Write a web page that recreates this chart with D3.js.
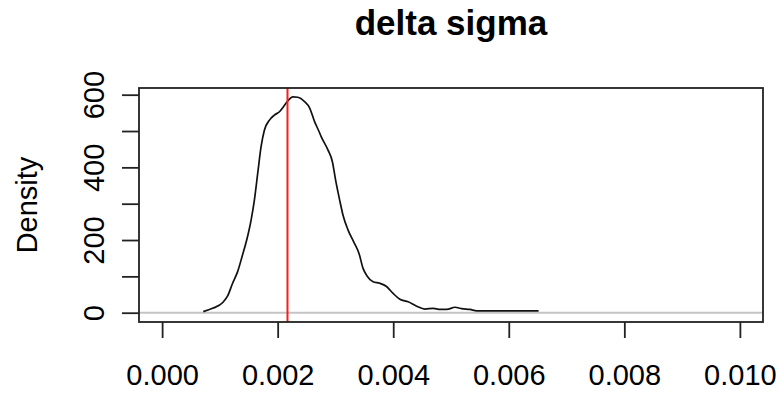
<!DOCTYPE html>
<html>
<head>
<meta charset="utf-8">
<script src="https://cdn.jsdelivr.net/npm/d3@7"></script>
<style>
  html, body { margin: 0; padding: 0; background: #ffffff; }
  svg { display: block; font-family: "Liberation Sans", Arial, sans-serif; }
</style>
</head>
<body>
<svg id="chart" width="780" height="393"></svg>
<script>
// Kernel density estimate of delta sigma (x = value, y = density)
const densityX = [0.000712, 0.000874, 0.00105, 0.001134, 0.00122, 0.001307, 0.001383, 0.001464,
  0.00154, 0.001597, 0.001655, 0.001713, 0.001771, 0.001858, 0.001944, 0.002031, 0.0021,
  0.002175, 0.002262, 0.002349, 0.002465, 0.002552, 0.002639, 0.002712, 0.002755, 0.00287,
  0.002946, 0.003003, 0.003073, 0.00313, 0.003217, 0.003316, 0.003408, 0.003478, 0.003547,
  0.003651, 0.003767, 0.003884, 0.003998, 0.004115, 0.004259, 0.004405, 0.004549, 0.004693,
  0.00481, 0.004926, 0.00507, 0.005186, 0.00533, 0.005446, 0.005533, 0.006516];
const densityY = [3, 12, 28, 46, 81, 113, 154, 200,
  255, 310, 384, 457, 503, 530, 544, 553, 567,
  583, 594, 593, 581, 564, 526, 500, 484, 448,
  416, 365, 310, 269, 228, 195, 163, 122, 101,
  85, 81, 72, 53, 37, 30, 18, 10, 12,
  9, 9, 15, 11, 9, 5, 5, 5];

// Reference value marked with a vertical line
const markerValue = [0.00217];

// Axis ticks and labels
const xTicks = [0, 0.002, 0.004, 0.006, 0.008, 0.010];
const xTickLabels = ["0.000", "0.002", "0.004", "0.006", "0.008", "0.010"];
const yTicks = [0, 100, 200, 300, 400, 500, 600];
const yTickLabels = ["0", "", "200", "", "400", "", "600"];

const titleText = "delta sigma";
const yAxisTitle = "Density";

const svg = d3.select("#chart");
const plot = { left: 139, right: 763, top: 88, bottom: 322 };

const x = d3.scaleLinear().domain([-0.0004, 0.0104]).range([plot.left, plot.right]);
const y = d3.scaleLinear().domain([-25.6, 618.4]).range([plot.bottom, plot.top]);

// zero reference line
svg.append("line")
  .attr("x1", plot.left).attr("x2", plot.right)
  .attr("y1", y(0)).attr("y2", y(0))
  .attr("stroke", "#c4c4c4").attr("stroke-width", 2);

// density curve
const pts = densityX.map((d, i) => [d, densityY[i]]);
svg.append("path")
  .datum(pts)
  .attr("fill", "none")
  .attr("stroke", "#111")
  .attr("stroke-width", 1.7)
  .attr("stroke-linejoin", "round")
  .attr("d", d3.line().x(d => x(d[0])).y(d => y(d[1])).curve(d3.curveMonotoneX));

// vertical marker
svg.selectAll(".marker").data(markerValue).enter().append("line")
  .attr("class", "marker")
  .attr("x1", d => x(d)).attr("x2", d => x(d))
  .attr("y1", plot.top).attr("y2", plot.bottom)
  .attr("stroke", "#ff1a1a").attr("stroke-width", 2);

// frame
svg.append("rect")
  .attr("x", plot.left).attr("y", plot.top)
  .attr("width", plot.right - plot.left).attr("height", plot.bottom - plot.top)
  .attr("fill", "none").attr("stroke", "#222").attr("stroke-width", 1.8);

// x axis
const xAxis = d3.axisBottom(x)
  .tickValues(xTicks)
  .tickSize(16)
  .tickSizeOuter(0)
  .tickFormat((d, i) => xTickLabels[i]);
const gx = svg.append("g").attr("transform", `translate(0,${plot.bottom})`).call(xAxis);
gx.select(".domain").remove();
gx.selectAll(".tick line").attr("stroke", "#222").attr("stroke-width", 1.8);
gx.selectAll(".tick text")
  .attr("y", 63).attr("dy", 0)
  .attr("fill", "#000")
  .style("font-size", "29px")
  .style("font-family", "'Liberation Sans', Arial, sans-serif");

// y axis
const yAxis = d3.axisLeft(y)
  .tickValues(yTicks)
  .tickSize(17)
  .tickSizeOuter(0)
  .tickFormat((d, i) => yTickLabels[i]);
const gy = svg.append("g").attr("transform", `translate(${plot.left},0)`).call(yAxis);
gy.select(".domain").remove();
gy.selectAll(".tick line").attr("stroke", "#222").attr("stroke-width", 1.8);
gy.selectAll(".tick text")
  .attr("x", 0).attr("y", 0).attr("dy", 0)
  .attr("transform", "translate(-35,0) rotate(-90)")
  .attr("text-anchor", "middle")
  .attr("fill", "#000")
  .style("font-size", "29px")
  .style("font-family", "'Liberation Sans', Arial, sans-serif");

// axis title
svg.append("text")
  .attr("transform", `translate(37,${(plot.top + plot.bottom) / 2}) rotate(-90)`)
  .attr("text-anchor", "middle")
  .attr("fill", "#000")
  .style("font-size", "29px")
  .text(yAxisTitle);

// chart title
svg.append("text")
  .attr("x", (plot.left + plot.right) / 2)
  .attr("y", 35)
  .attr("text-anchor", "middle")
  .attr("fill", "#000")
  .style("font-size", "35px")
  .style("font-weight", "bold")
  .text(titleText);
</script>
</body>
</html>
